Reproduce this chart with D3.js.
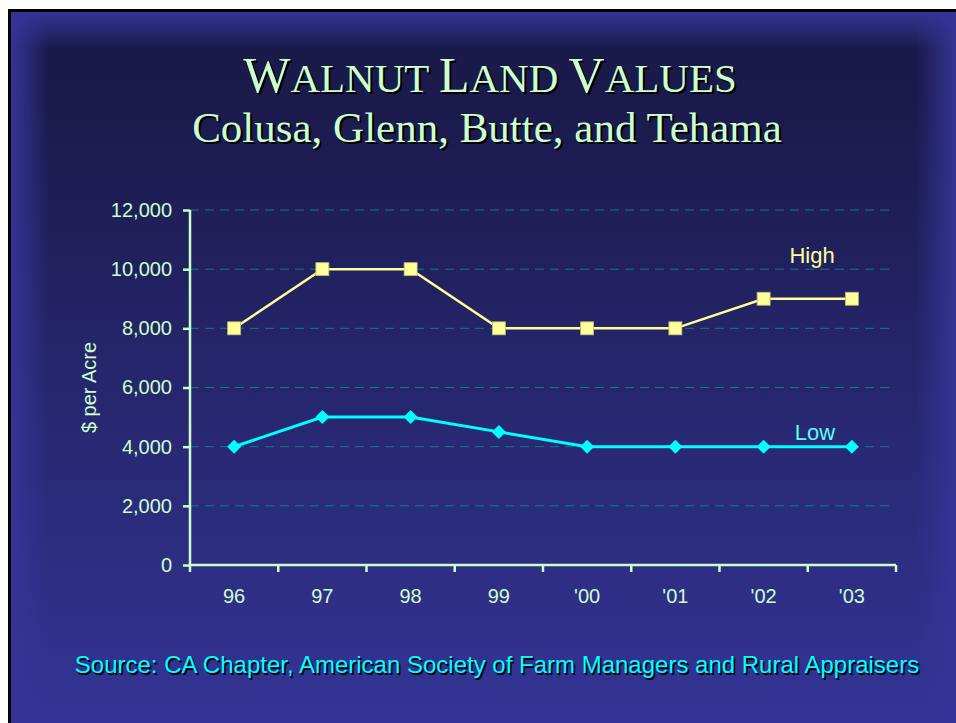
<!DOCTYPE html>
<html>
<head>
<meta charset="utf-8">
<script src="https://cdn.jsdelivr.net/npm/d3@7"></script>
<style>
  html, body { margin: 0; padding: 0; background: #fff; }
  svg { display: block; }
</style>
</head>
<body>
<script>
// data
var years = ["96", "97", "98", "99", "'00", "'01", "'02", "'03"];
var highValues = [8000, 10000, 10000, 8000, 8000, 8000, 9000, 9000];
var lowValues = [4000, 5000, 5000, 4500, 4000, 4000, 4000, 4000];
var yTicks = [0, 2000, 4000, 6000, 8000, 10000, 12000];

var W = 956, H = 723;
var svg = d3.select("body").append("svg").attr("width", W).attr("height", H);
var defs = svg.append("defs");

// slide background
var bg = defs.append("linearGradient").attr("id", "bg").attr("x1", 0).attr("y1", 0).attr("x2", 0).attr("y2", 1);
bg.append("stop").attr("offset", "0%").attr("stop-color", "#19194a");
bg.append("stop").attr("offset", "12%").attr("stop-color", "#1a1a4b");
bg.append("stop").attr("offset", "100%").attr("stop-color", "#343496");

function edgeGrad(id, x1, y1, x2, y2) {
  var g = defs.append("linearGradient").attr("id", id)
    .attr("x1", x1).attr("y1", y1).attr("x2", x2).attr("y2", y2);
  g.append("stop").attr("offset", "0%").attr("stop-color", "#343496").attr("stop-opacity", 1);
  g.append("stop").attr("offset", "100%").attr("stop-color", "#343496").attr("stop-opacity", 0);
}
edgeGrad("eTop", 0, 0, 0, 1);
edgeGrad("eLeft", 0, 0, 1, 0);
edgeGrad("eRight", 1, 0, 0, 0);

svg.append("rect").attr("x", 8).attr("y", 9).attr("width", W - 8).attr("height", H - 9).attr("fill", "#000");
svg.append("rect").attr("x", 11).attr("y", 12).attr("width", W - 11).attr("height", H - 12).attr("fill", "url(#bg)");
svg.append("rect").attr("x", 11).attr("y", 12).attr("width", W - 11).attr("height", 38).attr("fill", "url(#eTop)");
svg.append("rect").attr("x", 11).attr("y", 12).attr("width", 38).attr("height", H - 12).attr("fill", "url(#eLeft)");
svg.append("rect").attr("x", W - 40).attr("y", 12).attr("width", 40).attr("height", H - 12).attr("fill", "url(#eRight)");

// title with shadow (small caps)
var titleParts = [["W", 50], ["ALNUT ", 41], ["L", 50], ["AND ", 41], ["V", 50], ["ALUES", 41]];
[[2, 2, "#000"], [0, 0, "#ccffcc"]].forEach(function (s) {
  var t = svg.append("text")
    .attr("x", 490 + s[0]).attr("y", 92 + s[1])
    .attr("text-anchor", "middle")
    .attr("font-family", "'Liberation Serif', 'Times New Roman', serif")
    .attr("fill", s[2]);
  titleParts.forEach(function (p) {
    t.append("tspan").attr("font-size", p[1]).text(p[0]);
  });
  svg.append("text")
    .attr("x", 487 + s[0]).attr("y", 142 + s[1])
    .attr("text-anchor", "middle")
    .attr("font-family", "'Liberation Serif', 'Times New Roman', serif")
    .attr("font-size", 43)
    .attr("fill", s[2])
    .text("Colusa, Glenn, Butte, and Tehama");
});

// chart
var plotLeft = 190, plotRight = 896, plotTop = 210, plotBottom = 565;
var x = d3.scaleBand().domain(years).range([plotLeft, plotRight]);
var y = d3.scaleLinear().domain([0, 12000]).range([plotBottom, plotTop]);
var axisColor = "#ccffcc";
var font = "'Liberation Sans', Arial, sans-serif";

// grid lines
svg.append("g").selectAll("line").data(yTicks.filter(function (d) { return d > 0; })).enter()
  .append("line")
  .attr("x1", plotLeft).attr("x2", plotRight - 6)
  .attr("y1", function (d) { return y(d); }).attr("y2", function (d) { return y(d); })
  .attr("stroke", "#0b7d84").attr("stroke-width", 1).attr("stroke-dasharray", "9,6");

// y axis
var yAxis = svg.append("g").attr("transform", "translate(" + plotLeft + ",0)")
  .call(d3.axisLeft(y).tickValues(yTicks).tickSize(7).tickPadding(11).tickFormat(d3.format(",")));
yAxis.select(".domain").attr("stroke", axisColor).attr("stroke-width", 2.5).attr("d", "M0," + plotBottom + "V" + plotTop);
yAxis.selectAll(".tick line").attr("stroke", axisColor).attr("stroke-width", 2.5);
yAxis.selectAll(".tick text").attr("fill", axisColor).attr("font-family", font).attr("font-size", 20);

// x axis
var xAxis = svg.append("g").attr("transform", "translate(0," + plotBottom + ")")
  .call(d3.axisBottom(x).tickSize(0).tickPadding(24));
xAxis.select(".domain").attr("stroke", axisColor).attr("stroke-width", 2.5).attr("d", "M" + plotLeft + ",0H" + plotRight);
xAxis.selectAll(".tick text").attr("fill", axisColor).attr("font-family", font).attr("font-size", 20);
svg.append("g").selectAll("line").data(years.concat(["end"])).enter()
  .append("line")
  .attr("x1", function (d, i) { return plotLeft + i * x.step(); })
  .attr("x2", function (d, i) { return plotLeft + i * x.step(); })
  .attr("y1", plotBottom).attr("y2", plotBottom + 7)
  .attr("stroke", axisColor).attr("stroke-width", 2.5);

// y label
svg.append("text")
  .attr("transform", "translate(96," + y(6000) + ") rotate(-90)")
  .attr("text-anchor", "middle")
  .attr("font-family", font).attr("font-size", 20)
  .attr("fill", axisColor)
  .text("$ per Acre");

var cx = function (d, i) { return x(years[i]) + x.bandwidth() / 2; };
var line = d3.line().x(cx).y(function (d) { return y(d); });

// High series
svg.append("path").datum(highValues).attr("d", line)
  .attr("fill", "none").attr("stroke", "#ffff99").attr("stroke-width", 2.5);
svg.append("g").selectAll("rect").data(highValues).enter().append("rect")
  .attr("x", function (d, i) { return cx(d, i) - 6.5; })
  .attr("y", function (d) { return y(d) - 6.5; })
  .attr("width", 13).attr("height", 13)
  .attr("fill", "#ffff99").attr("stroke", "#b8b870").attr("stroke-width", 0.8);

// Low series
svg.append("path").datum(lowValues).attr("d", line)
  .attr("fill", "none").attr("stroke", "#00ffff").attr("stroke-width", 3);
svg.append("g").selectAll("path").data(lowValues).enter().append("path")
  .attr("d", function (d, i) {
    var px = cx(d, i), py = y(d), r = 7;
    return "M" + px + "," + (py - r) + "L" + (px + r) + "," + py + "L" + px + "," + (py + r) + "L" + (px - r) + "," + py + "Z";
  })
  .attr("fill", "#00ffff");

// series labels
svg.append("text").attr("x", 812).attr("y", 263).attr("text-anchor", "middle")
  .attr("font-family", font).attr("font-size", 22).attr("fill", "#ffff99").text("High");
svg.append("text").attr("x", 815).attr("y", 440).attr("text-anchor", "middle")
  .attr("font-family", font).attr("font-size", 22).attr("fill", "#55ffff").text("Low");

// source note with shadow
[[1.5, 1.5, "#000"], [0, 0, "#00ffff"]].forEach(function (s) {
  svg.append("text")
    .attr("x", 497 + s[0]).attr("y", 673 + s[1])
    .attr("text-anchor", "middle")
    .attr("font-family", font).attr("font-size", 24)
    .attr("fill", s[2])
    .text("Source: CA Chapter, American Society of Farm Managers and Rural Appraisers");
});
</script>
</body>
</html>
